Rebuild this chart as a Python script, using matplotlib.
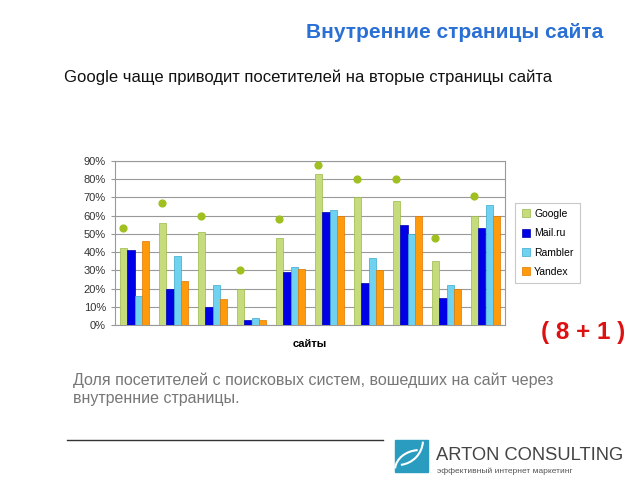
import numpy as np
import matplotlib
matplotlib.use("Agg")
import matplotlib.pyplot as plt
import matplotlib.patches as mpatches

plt.rcParams['font.family'] = ['Liberation Sans', 'DejaVu Sans']

# values, in %
series = ["Google", "Mail.ru", "Rambler", "Yandex"]
google = [42, 56, 51, 20, 48, 83, 70, 68, 35, 60]
mailru = [41, 20, 10, 3, 29, 62, 23, 55, 15, 53]
rambler = [16, 38, 22, 4, 32, 63, 37, 50, 22, 66]
yandex = [46, 24, 14, 3, 31, 60, 30, 60, 20, 60]
inner = [53, 67, 60, 30, 58, 88, 80, 80, 48, 71]
yticks = [0, 10, 20, 30, 40, 50, 60, 70, 80, 90]

colors = ["#c6dc7c", "#0000e6", "#6ed2f0", "#ff9a0a"]
edges = ["#9bb84a", "#0000b0", "#3aa8cc", "#e07800"]

fig = plt.figure(figsize=(6.4, 4.8), dpi=100)
ax = fig.add_axes([115/640, 155/480, 390/640, 164/480])

x = np.arange(len(google))
w = 0.19
for i, (vals, c, e) in enumerate(zip([google, mailru, rambler, yandex], colors, edges)):
    ax.bar(x + (i - 1.5) * w, [v / 100 for v in vals], width=w, color=c,
           edgecolor=e, linewidth=0.5, label=series[i], zorder=3)
ax.scatter(x - 1.5 * w, [v / 100 for v in inner], s=24, color="#a0c020", zorder=4)

ax.set_xlim(-0.5, len(google) - 0.5)
ax.set_ylim(0, 0.9)
ax.set_yticks([t / 100 for t in yticks])
ax.set_yticklabels([f"{t}%" for t in yticks], fontsize=8, color="#333333")
ax.set_xticks([])
ax.yaxis.grid(True, color="#999999", linewidth=0.8, zorder=0)
for s in ax.spines.values():
    s.set_color("#999999")
ax.tick_params(axis="y", length=3, color="#999999")
ax.set_xlabel("сайты", fontsize=8, fontweight="bold", labelpad=10)

leg = ax.legend(loc="center left", bbox_to_anchor=(1.013, 0.5), fontsize=7.5,
                frameon=True, handlelength=0.8, handleheight=0.8,
                borderpad=0.6, labelspacing=0.9, handletextpad=0.4)
leg.get_frame().set_edgecolor("#bbbbbb")
leg.get_frame().set_linewidth(0.8)
leg.get_frame().set_boxstyle("square", pad=0)

fig.text(603/640, 1 - 33/480, "Внутренние страницы сайта", ha="right", va="center",
         fontsize=15, fontweight="bold", color="#2a6fd4")
fig.text(64/640, 1 - 77/480, "Google чаще приводит посетителей на вторые страницы сайта",
         ha="left", va="center", fontsize=12, color="#111111")
fig.text(625/640, 1 - 332/480, "( 8 + 1 )", ha="right", va="center",
         fontsize=17.5, fontweight="bold", color="#dd1111")
fig.text(73/640, 1 - 380/480, "Доля посетителей с поисковых систем, вошедших на сайт через",
         ha="left", va="center", fontsize=11.5, color="#777777")
fig.text(73/640, 1 - 399/480, "внутренние страницы.",
         ha="left", va="center", fontsize=11.5, color="#777777")

fig.add_artist(plt.Line2D([67/640, 383/640], [1 - 440/480, 1 - 440/480],
                          color="#333333", linewidth=1))

# logo
fig.add_artist(mpatches.Rectangle((395/640, 1 - 472/480), 33/640, 32/480,
                                  color="#2a9cc0"))
fig.add_artist(mpatches.Arc((420/640, 1 - 470/480), 50/640, 40/480, theta1=95, theta2=175,
                            color="white", linewidth=1.5))
fig.add_artist(mpatches.Arc((398/640, 1 - 440/480), 50/640, 50/480, theta1=275, theta2=355,
                            color="white", linewidth=1.5))
fig.text(436/640, 1 - 455/480, "ARTON CONSULTING", ha="left", va="center",
         fontsize=13.2, color="#444444")
fig.text(437/640, 1 - 471/480, "эффективный интернет маркетинг", ha="left", va="center",
         fontsize=6, color="#555555")

fig.savefig("out.png", dpi=100)
